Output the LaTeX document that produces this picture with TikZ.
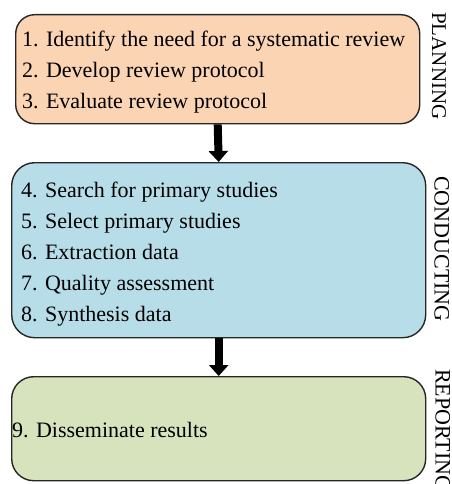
\documentclass[tikz,border=0pt]{standalone}
\usepackage{fontspec}
\setmainfont{Liberation Serif}
\usetikzlibrary{arrows.meta}
\definecolor{peach}{HTML}{FBD4B4}
\definecolor{paleblue}{HTML}{B7DDE8}
\definecolor{palegreen}{HTML}{D7E3BC}
\definecolor{edge}{HTML}{262626}
\tikzset{
  phasebox/.style={draw=edge, line width=1.4pt, inner sep=0pt, anchor=north west},
  itemtxt/.style={anchor=base west, inner sep=0pt, font=\fontsize{22}{26}\selectfont, text=black},
  phaselabel/.style={anchor=base west, rotate=-90, inner sep=0pt, text=black},
  flowarrow/.style={line width=8pt, -{Triangle[width=19pt,length=11pt]}}
}
\begin{document}
\begin{tikzpicture}[x=1pt,y=1pt]
\useasboundingbox (0,0) rectangle (451,-484);
% boxes
\node[phasebox, fill=peach, rounded corners=19pt, minimum width=404pt, minimum height=109pt] (plan) at (15,-14) {};
\node[phasebox, fill=paleblue, rounded corners=23pt, minimum width=414pt, minimum height=175pt] (cond) at (11,-162) {};
\node[phasebox, fill=palegreen, rounded corners=22pt, minimum width=414pt, minimum height=104pt] (rep) at (11,-376) {};
% items
\node[itemtxt] (i1) at (22,-47) {1. Identify the need for a systematic review};
\node[itemtxt] (i2) at (22,-78) {2. Develop review protocol};
\node[itemtxt] (i3) at (22,-109) {3. Evaluate review protocol};
\node[itemtxt] (i4) at (21,-197) {4. Search for primary studies};
\node[itemtxt] (i5) at (21,-228) {5. Select primary studies};
\node[itemtxt] (i6) at (21,-259) {6. Extraction data};
\node[itemtxt] (i7) at (21,-290) {7. Quality assessment};
\node[itemtxt] (i8) at (21,-321) {8. Synthesis data};
\node[itemtxt] (i9) at (12,-437) {9. Disseminate results};
% phase labels
\node[phaselabel, font=\fontsize{21}{24}\selectfont] (lp) at (432,-12) {PLANNING};
\node[phaselabel, font=\fontsize{22}{24}\selectfont] (lc) at (434.5,-176) {CONDUCTING};
\node[phaselabel, font=\fontsize{22}{24}\selectfont] (lr) at (435.5,-369) {REPORTING};
% arrows
\draw[flowarrow] (plan.south) -- (cond.north);
\draw[flowarrow] (cond.south) -- (rep.north);
\end{tikzpicture}
\end{document}
